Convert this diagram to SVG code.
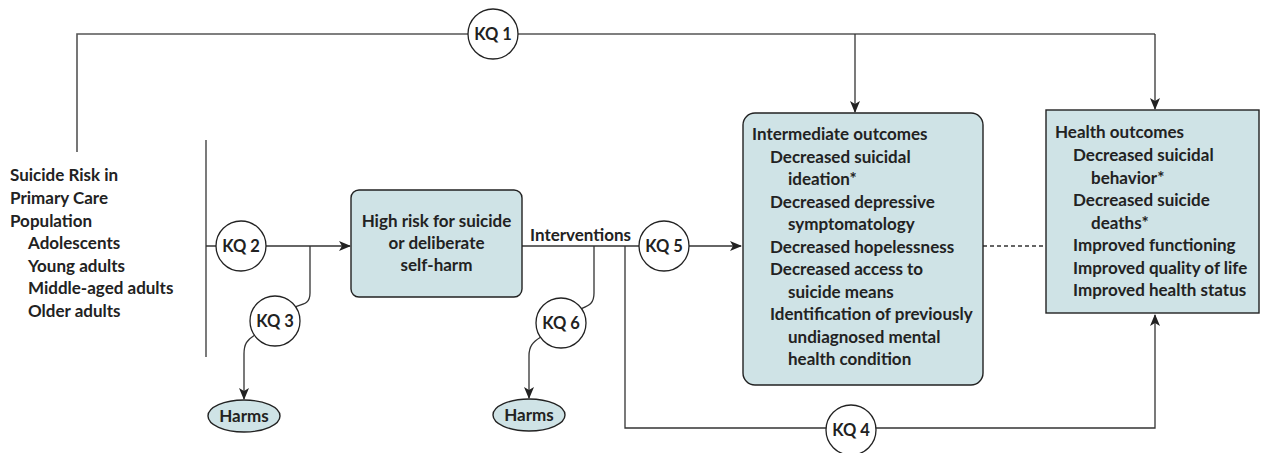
<svg xmlns="http://www.w3.org/2000/svg" width="1261" height="453" viewBox="0 0 1261 453">
<style>
  text { font-family: Lato, "Open Sans", "Liberation Sans", sans-serif; font-weight: 700; fill: #222; font-size: 17px; }
  .kq { font-size: 16.5px; text-anchor: middle; }
  .mid { text-anchor: middle; }
  .conn { fill: none; stroke: #333; stroke-width: 1.3; }
  .top { fill: none; stroke: #555; stroke-width: 1.6; }
  .circ { fill: #fff; stroke: #222; stroke-width: 1.3; }
  .box { fill: #cfe3e6; stroke: #222; stroke-width: 1.4; }
</style>
<defs>
  <marker id="arr" viewBox="0 0 12 10" refX="11" refY="5" markerWidth="12" markerHeight="10" markerUnits="userSpaceOnUse" orient="auto">
    <path d="M0,0 L12,5 L0,10 L3,5 Z" fill="#222"/>
  </marker>
</defs>

<g id="connectors">
  <path class="top" d="M77,152 V34 H1155"/>
  <path class="conn" d="M855,34 V112" marker-end="url(#arr)"/>
  <path class="conn" d="M1155,34 V109" marker-end="url(#arr)"/>
  <path class="conn" d="M206,140 V357"/>
  <path class="conn" d="M206,246 H350" marker-end="url(#arr)"/>
  <path class="conn" d="M310,246 V293 C310,303 305,304 295.5,306.7"/>
  <path class="conn" d="M254.5,335.3 C247,340 244,344 244,354 V399" marker-end="url(#arr)"/>
  <path class="conn" d="M522,246 H741" marker-end="url(#arr)"/>
  <path class="conn" d="M594,246 V293 C594,303 590,305 581.5,308.7"/>
  <path class="conn" d="M540.5,337.3 C533,342 529,346 529,356 V398" marker-end="url(#arr)"/>
  <path class="conn" d="M625,246 V428 H1155 V315" marker-end="url(#arr)"/>
  <path class="conn" d="M983,246 H1046" stroke-dasharray="4,3"/>
</g>

<g id="population">
  <text x="10" y="181">Suicide Risk in</text>
  <text x="10" y="204">Primary Care</text>
  <text x="10" y="227">Population</text>
  <text x="28" y="249">Adolescents</text>
  <text x="28" y="272">Young adults</text>
  <text x="28" y="294">Middle-aged adults</text>
  <text x="28" y="317">Older adults</text>
</g>

<g id="high-risk">
  <rect class="box" x="351" y="190" width="171" height="107" rx="8"/>
  <text class="mid" x="436.5" y="227">High risk for suicide</text>
  <text class="mid" x="436.5" y="249">or deliberate</text>
  <text class="mid" x="436.5" y="271">self-harm</text>
</g>

<g id="interventions-label">
  <text x="530" y="241">Interventions</text>
</g>

<g id="intermediate">
  <rect class="box" x="743" y="113" width="240" height="272" rx="12"/>
  <text x="752" y="140">Intermediate outcomes</text>
  <text x="770" y="163">Decreased suicidal</text>
  <text x="788" y="185">ideation*</text>
  <text x="770" y="208">Decreased depressive</text>
  <text x="788" y="230">symptomatology</text>
  <text x="770" y="253">Decreased hopelessness</text>
  <text x="770" y="275">Decreased access to</text>
  <text x="788" y="298">suicide means</text>
  <text x="770" y="320">Identification of previously</text>
  <text x="788" y="343">undiagnosed mental</text>
  <text x="788" y="365">health condition</text>
</g>

<g id="health">
  <rect class="box" x="1046" y="110" width="213" height="203"/>
  <text x="1055" y="138">Health outcomes</text>
  <text x="1073" y="161">Decreased suicidal</text>
  <text x="1091" y="184">behavior*</text>
  <text x="1073" y="206">Decreased suicide</text>
  <text x="1091" y="229">deaths*</text>
  <text x="1073" y="251">Improved functioning</text>
  <text x="1073" y="274">Improved quality of life</text>
  <text x="1073" y="296">Improved health status</text>
</g>

<g id="harms1">
  <ellipse class="box" cx="244" cy="416" rx="36" ry="16"/>
  <text class="mid" x="244" y="422">Harms</text>
</g>
<g id="harms2">
  <ellipse class="box" cx="529" cy="415" rx="36" ry="16"/>
  <text class="mid" x="529" y="421">Harms</text>
</g>

<g id="kq1"><circle class="circ" cx="493" cy="34" r="25"/><text class="kq" x="493" y="40">KQ 1</text></g>
<g id="kq2"><circle class="circ" cx="241" cy="246" r="25"/><text class="kq" x="241" y="252">KQ 2</text></g>
<g id="kq3"><circle class="circ" cx="275" cy="321" r="25"/><text class="kq" x="275" y="327">KQ 3</text></g>
<g id="kq4"><circle class="circ" cx="851" cy="430" r="25"/><text class="kq" x="851" y="436">KQ 4</text></g>
<g id="kq5"><circle class="circ" cx="664" cy="246" r="25"/><text class="kq" x="664" y="252">KQ 5</text></g>
<g id="kq6"><circle class="circ" cx="561" cy="323" r="25"/><text class="kq" x="561" y="329">KQ 6</text></g>
</svg>
